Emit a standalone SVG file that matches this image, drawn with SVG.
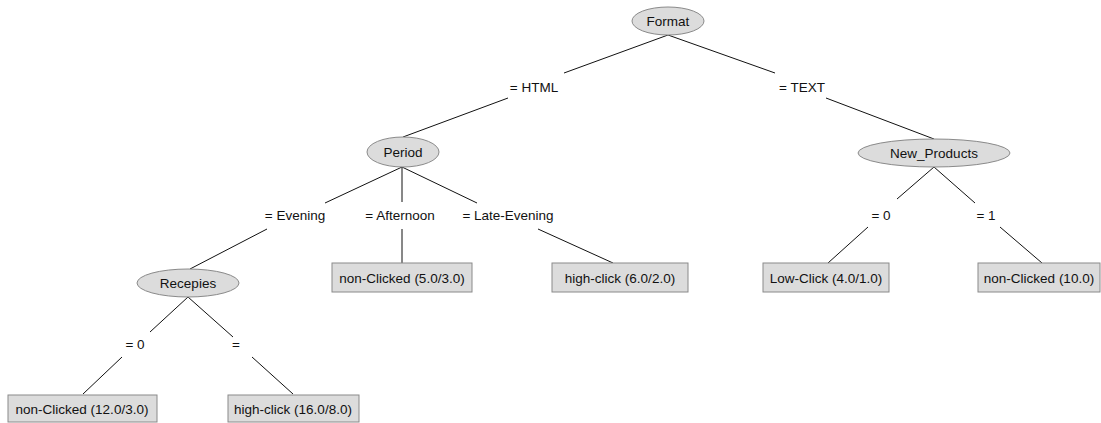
<svg xmlns="http://www.w3.org/2000/svg" width="1101" height="423" viewBox="0 0 1101 423">
<style>
.n ellipse,.n rect{fill:#dcdcdc;stroke:#8a8a8a;stroke-width:1}
text{font-family:"Liberation Sans",Arial,sans-serif;font-size:13.5px;fill:#111;text-anchor:middle;dominant-baseline:central}
.e line{stroke:#111;stroke-width:1}
</style>
<rect width="1101" height="423" fill="#fff"/>
<g id="connectors" class="e">
<line x1="668" y1="35" x2="564" y2="73"/>
<line x1="668" y1="35" x2="775" y2="73"/>
<line x1="508" y1="98" x2="403" y2="137"/>
<line x1="826" y1="98" x2="934" y2="139"/>
<line x1="402" y1="167" x2="325" y2="203"/>
<line x1="402" y1="167" x2="402" y2="202"/>
<line x1="402" y1="167" x2="477" y2="203"/>
<line x1="267" y1="229" x2="190" y2="269"/>
<line x1="402" y1="229" x2="402" y2="263"/>
<line x1="538" y1="229" x2="613" y2="263"/>
<line x1="934" y1="167" x2="897" y2="199"/>
<line x1="934" y1="167" x2="975" y2="203"/>
<line x1="868" y1="227" x2="828" y2="263"/>
<line x1="1000" y1="227" x2="1042" y2="263"/>
<line x1="188" y1="297" x2="150" y2="332"/>
<line x1="188" y1="297" x2="233" y2="337"/>
<line x1="122" y1="357" x2="83" y2="394"/>
<line x1="252" y1="357" x2="293" y2="394"/>
<text x="534" y="87">= HTML</text>
<text x="802" y="87">= TEXT</text>
<text x="295" y="215">= Evening</text>
<text x="400" y="215">= Afternoon</text>
<text x="508" y="215">= Late-Evening</text>
<text x="881" y="215">= 0</text>
<text x="986" y="215">= 1</text>
<text x="135" y="344">= 0</text>
<text x="236" y="344">=</text>
</g>
<g id="n-format" class="n"><ellipse cx="668" cy="21" rx="36" ry="14"/><text x="668" y="21">Format</text></g>
<g id="n-period" class="n"><ellipse cx="403" cy="152" rx="36" ry="15"/><text x="403" y="152">Period</text></g>
<g id="n-newproducts" class="n"><ellipse cx="934" cy="153" rx="76" ry="14"/><text x="934" y="153">New_Products</text></g>
<g id="n-recepies" class="n"><ellipse cx="188" cy="283" rx="51" ry="14"/><text x="188" y="283">Recepies</text></g>
<g id="l-afternoon" class="n"><rect x="332" y="263" width="140" height="29"/><text x="402" y="278">non-Clicked (5.0/3.0)</text></g>
<g id="l-lateevening" class="n"><rect x="552" y="263" width="136" height="29"/><text x="620" y="278">high-click (6.0/2.0)</text></g>
<g id="l-np0" class="n"><rect x="763" y="263" width="126" height="29"/><text x="826" y="278">Low-Click (4.0/1.0)</text></g>
<g id="l-np1" class="n"><rect x="978" y="263" width="122" height="29"/><text x="1039" y="278">non-Clicked (10.0)</text></g>
<g id="l-rec0" class="n"><rect x="8" y="395" width="149" height="27"/><text x="82" y="409">non-Clicked (12.0/3.0)</text></g>
<g id="l-rec1" class="n"><rect x="228" y="395" width="131" height="27"/><text x="293" y="409">high-click (16.0/8.0)</text></g>
</svg>
